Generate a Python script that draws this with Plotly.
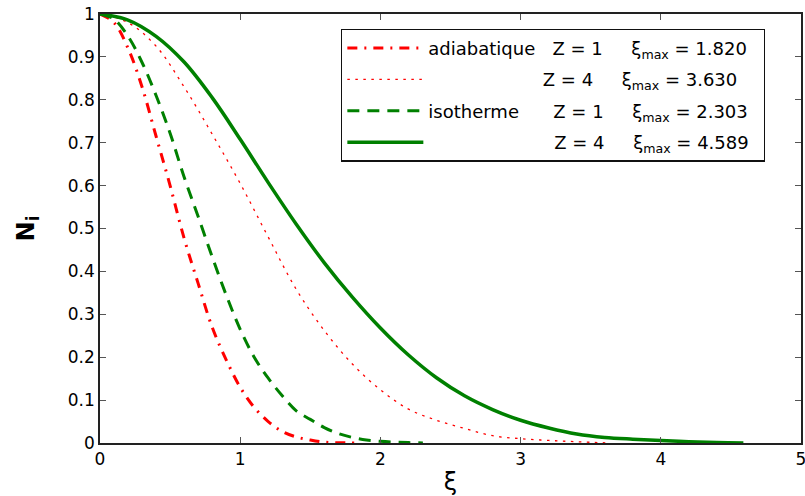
import plotly.graph_objects as go

# Profiles N_i(xi) for the four configurations
xi_adia_z1 = [0, 0.1, 0.2, 0.3, 0.4, 0.5, 0.6, 0.7, 0.8, 0.9, 1.0, 1.1, 1.2, 1.3, 1.4, 1.5, 1.6, 1.7, 1.82]
n_adia_z1 = [1, 0.98, 0.92, 0.83, 0.715, 0.60, 0.477, 0.372, 0.27, 0.194, 0.13, 0.083, 0.05, 0.027,
             0.014, 0.007, 0.002, 0.0007, 0]

xi_adia_z4 = [0, 0.2, 0.4, 0.6, 0.8, 1.0, 1.2, 1.4, 1.6, 1.8, 2.0, 2.2, 2.4, 2.6, 2.8, 3.0, 3.2, 3.4, 3.63]
n_adia_z4 = [1, 0.98, 0.925, 0.83, 0.72, 0.605, 0.48, 0.358, 0.262, 0.184, 0.124, 0.079, 0.053, 0.034,
             0.017, 0.01, 0.006, 0.003, 0]

xi_iso_z1 = [0, 0.1, 0.2, 0.3, 0.4, 0.5, 0.6, 0.7, 0.8, 0.9, 1.0, 1.1, 1.2, 1.3, 1.4, 1.5, 1.6, 1.7,
             1.8, 1.9, 2.0, 2.1, 2.2, 2.303]
n_iso_z1 = [1, 0.988, 0.948, 0.887, 0.81, 0.722, 0.62, 0.528, 0.434, 0.345, 0.265, 0.20, 0.151, 0.11,
            0.075, 0.055, 0.036, 0.022, 0.013, 0.007, 0.004, 0.002, 0.001, 0]

xi_iso_z4 = [0, 0.2, 0.4, 0.6, 0.8, 1.0, 1.2, 1.4, 1.6, 1.8, 2.0, 2.2, 2.4, 2.6, 2.8, 3.0, 3.2, 3.4,
             3.6, 3.8, 4.0, 4.2, 4.4, 4.589]
n_iso_z4 = [1, 0.986, 0.948, 0.888, 0.805, 0.708, 0.607, 0.51, 0.42, 0.34, 0.268, 0.205, 0.152, 0.11,
            0.078, 0.053, 0.035, 0.021, 0.013, 0.009, 0.006, 0.003, 0.001, 0]

NB = "&nbsp;"
labels = [
    "adiabatique" + NB * 3 + "Z = 1" + NB * 5 + "ξ<sub>max</sub> = 1.820" + NB * 2,
    NB * 20 + "Z = 4" + NB * 5 + "ξ<sub>max</sub> = 3.630",
    "isotherme" + NB * 6 + "Z = 1" + NB * 5 + "ξ<sub>max</sub> = 2.303" + NB * 1,
    NB * 22 + "Z = 4" + NB * 5 + "ξ<sub>max</sub> = 4.589",
]

RED = "rgb(255,0,0)"
GREEN = "rgb(0,128,0)"

series = [
    (xi_adia_z1, n_adia_z1, dict(color=RED, width=3, dash="10px,7px,2px,7px")),
    (xi_adia_z4, n_adia_z4, dict(color=RED, width=1.3, dash="2.5px,5.5px")),
    (xi_iso_z1, n_iso_z1, dict(color=GREEN, width=3, dash="12px,8px")),
    (xi_iso_z4, n_iso_z4, dict(color=GREEN, width=3.5)),
]

fig = go.Figure()
for i, (xs, ys, style) in enumerate(series):
    fig.add_trace(go.Scatter(x=xs, y=ys, mode="lines", name=labels[i], legendgroup=f"g{i}",
                             line=dict(shape="spline", smoothing=1, **style)))

FONT = "DejaVu Sans, Liberation Sans, Arial, sans-serif"

axis_common = dict(
    showline=True, linecolor="#222", linewidth=1.5, mirror="ticks",
    ticks="inside", ticklen=6, tickcolor="#555", tickwidth=1,
    showgrid=False, zeroline=False, ticklabeloverflow="allow",
    tickfont=dict(family=FONT, size=17, color="black"),
)

fig.update_layout(
    width=805, height=496,
    margin=dict(l=100, r=4, t=14, b=53),
    paper_bgcolor="white", plot_bgcolor="white",
    showlegend=True,
    legend=dict(
        x=0.344, y=0.966, xanchor="left", yanchor="top",
        bgcolor="white", bordercolor="#111", borderwidth=1.2,
        font=dict(family=FONT, size=18, color="black"),
        itemwidth=76, tracegroupgap=5, traceorder="grouped",
    ),
    xaxis=dict(range=[0, 5], dtick=1, automargin=False,
               title=dict(text="ξ", font=dict(family=FONT, size=24, color="black"), standoff=6),
               **axis_common),
    yaxis=dict(range=[0, 1], dtick=0.1, automargin=False,
               title=dict(text="<b>N<sub>i</sub></b>", font=dict(family=FONT, size=24, color="black"),
                          standoff=26),
               **axis_common),
)

fig.write_html("out.html")
